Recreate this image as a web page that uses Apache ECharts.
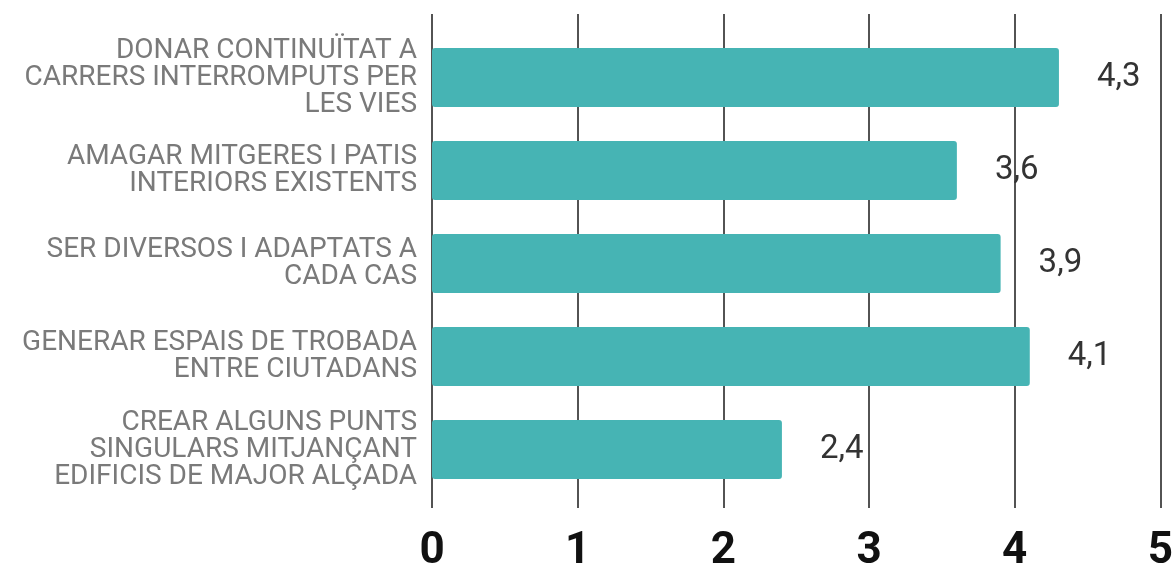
<!DOCTYPE html>
<html>
<head>
<meta charset="utf-8">
<script src="https://cdn.jsdelivr.net/npm/echarts@6/dist/echarts.min.js"></script>
<style>
  html, body { margin: 0; padding: 0; background: #fff; }
  #chart { width: 1176px; height: 574px; }
</style>
</head>
<body>
<div id="chart"></div>
<script>
// Objectius de la proposta, valoració mitjana (0–5)
const categories = [
  'DONAR CONTINUÏTAT A\nCARRERS INTERROMPUTS PER\nLES VIES',
  'AMAGAR MITGERES I PATIS\nINTERIORS EXISTENTS',
  'SER DIVERSOS I ADAPTATS A\nCADA CAS',
  'GENERAR ESPAIS DE TROBADA\nENTRE CIUTADANS',
  'CREAR ALGUNS PUNTS\nSINGULARS MITJANÇANT\nEDIFICIS DE MAJOR ALÇADA'
];
const scores = [4.3, 3.6, 3.9, 4.1, 2.4];
const tickValues = [0, 1, 2, 3, 4, 5];

const FONT = 'Roboto, "Noto Sans", sans-serif';
const X_MIN = tickValues[0];
const X_MAX = tickValues[tickValues.length - 1];

const chart = echarts.init(document.getElementById('chart'), null, { renderer: 'canvas' });

chart.setOption({
  animation: false,
  backgroundColor: '#ffffff',
  grid: [
    // grid 0: vertical reference lines and the 0–5 scale
    { left: 432, right: 15, top: 14, bottom: 64, containLabel: false },
    // grid 1: the bars themselves
    { left: 432, right: 15, top: 31, bottom: 78, containLabel: false }
  ],
  xAxis: [
    {
      gridIndex: 0,
      type: 'value',
      min: X_MIN, max: X_MAX, interval: 1,
      axisLine: { show: false },
      axisTick: { show: false },
      splitLine: { show: true, lineStyle: { color: '#1a1a1a', width: 1.5 } },
      axisLabel: {
        margin: 22,
        color: '#111',
        fontFamily: FONT,
        fontWeight: 'bold',
        fontSize: 44
      }
    },
    {
      gridIndex: 1,
      type: 'value',
      min: X_MIN, max: X_MAX, interval: 1,
      show: false,
      splitLine: { show: false }
    }
  ],
  yAxis: [
    {
      gridIndex: 0,
      type: 'category',
      data: categories,
      show: false
    },
    {
      gridIndex: 1,
      type: 'category',
      data: categories,
      inverse: true,
      axisLine: { show: false },
      axisTick: { show: false },
      splitLine: { show: false },
      axisLabel: {
        margin: 15,
        color: '#7a7a7a',
        fontFamily: FONT,
        fontSize: 28,
        lineHeight: 27,
        align: 'right'
      }
    }
  ],
  series: [
    {
      type: 'bar',
      xAxisIndex: 1,
      yAxisIndex: 1,
      data: scores,
      barWidth: 59,
      itemStyle: { color: '#46b4b4', borderRadius: 3 },
      label: {
        show: true,
        position: 'right',
        distance: 38,
        color: '#333',
        fontFamily: FONT,
        fontSize: 33,
        formatter: p => String(p.value).replace('.', ',')
      }
    }
  ]
});
</script>
</body>
</html>
